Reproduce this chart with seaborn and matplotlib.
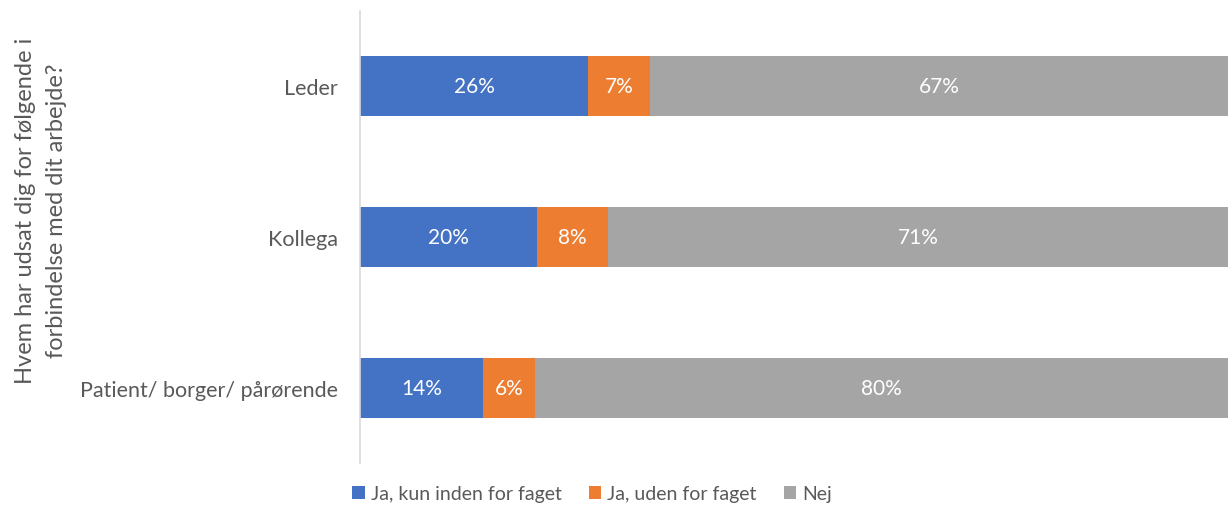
import matplotlib
matplotlib.use("Agg")
import matplotlib.pyplot as plt
import seaborn as sns
import pandas as pd
import numpy as np
from matplotlib.patches import Patch

categories = ["Leder", "Kollega", "Patient/ borger/ pårørende"]
series_names = ["Ja, kun inden for faget", "Ja, uden for faget", "Nej"]
ja_kun = [26.3, 20.4, 14.2]
ja_uden = [7.1, 8.2, 6.0]
nej = [66.6, 71.4, 79.8]
colors = ["#4472C4", "#ED7D31", "#A5A5A5"]
ylabel_text = "Hvem har udsat dig for følgende i\nforbindelse med dit arbejde?"

sns.set_theme(style="white")
plt.rcParams["font.family"] = ["Lato", "DejaVu Sans"]
text_color = "#595959"

df = pd.DataFrame({"cat": categories, "a": ja_kun, "b": ja_uden, "c": nej})
df["cum_a"] = df["a"]
df["cum_b"] = df["a"] + df["b"]
df["cum_c"] = df["a"] + df["b"] + df["c"]

fig = plt.figure(figsize=(12.28, 5.06), dpi=100)
ax = fig.add_axes([360 / 1228, 1 - 464 / 506, (1228 - 360) / 1228, 452 / 506])

for col, color in zip(["cum_c", "cum_b", "cum_a"], colors[::-1]):
    sns.barplot(data=df, x=col, y="cat", orient="h", color=color, width=0.4,
                saturation=1, ax=ax, linewidth=0)

ax.set_xlim(0, 100)
ax.set_ylim(2.5, -0.5)
ax.set_xticks([])
ax.set_xlabel("")
ax.set_ylabel("")
for s in ["top", "right", "bottom"]:
    ax.spines[s].set_visible(False)
ax.spines["left"].set_color("#D9D9D9")
ax.spines["left"].set_linewidth(1.2)
ax.tick_params(axis="y", length=0, pad=16, labelsize=15.5, labelcolor=text_color)

# value labels
for i in range(len(categories)):
    starts = [0, df["a"][i], df["cum_b"][i]]
    vals = [df["a"][i], df["b"][i], df["c"][i]]
    for s, v in zip(starts, vals):
        ax.text(s + v / 2, i, f"{round(v):d}%", ha="center", va="center",
                color="white", fontsize=15)

fig.text(41 / 1228, 1 - 211 / 506, ylabel_text, rotation=90, ha="center",
         va="center", fontsize=17, color=text_color, linespacing=1.6)

handles = [Patch(facecolor=c, edgecolor="none") for c in colors]
fig.legend(handles, series_names, loc="center", bbox_to_anchor=(592 / 1228, 1 - 495 / 506),
           ncol=3, frameon=False, fontsize=14, labelcolor=text_color,
           handlelength=0.65, handleheight=0.65, handletextpad=0.3, columnspacing=1.4,
           borderpad=0.1)

fig.savefig("out.png", dpi=100, facecolor="white")
